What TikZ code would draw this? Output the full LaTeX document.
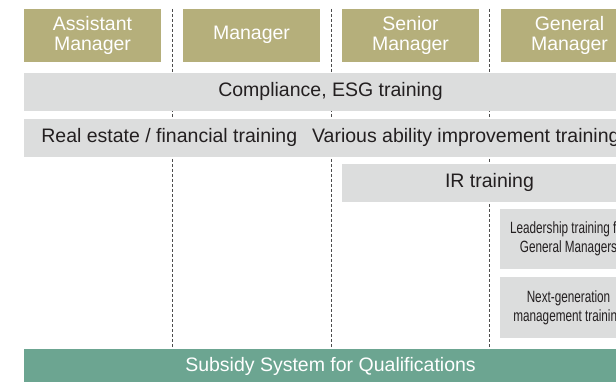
\documentclass[tikz,border=0pt]{standalone}
\usepackage{fontspec}
\setmainfont{Liberation Sans}
\newfontfamily\condfont[FakeStretch=0.72]{Liberation Sans}
\usetikzlibrary{positioning}
\definecolor{hdrolive}{HTML}{B5AF7B}
\definecolor{bargray}{HTML}{DCDDDD}
\definecolor{subgreen}{HTML}{6CA591}
\definecolor{txtdark}{HTML}{231F20}
\definecolor{sepgray}{HTML}{4D4D4D}

\begin{document}
\begin{tikzpicture}[x=1pt, y=-1pt, node distance=8pt and 22pt,
  every node/.style={inner sep=0pt, outer sep=0pt, align=center},
  hdr/.style={fill=hdrolive, text=white, minimum width=137pt, minimum height=52.7pt, font=\fontsize{19.5}{20}\selectfont},
  bar/.style={fill=bargray, text=txtdark, minimum height=38pt, font=\fontsize{19.5}{20}\selectfont},
  smallbox/.style={fill=bargray, text=txtdark, minimum width=137pt, minimum height=60pt, font=\condfont\fontsize{16.3}{19}\selectfont},
  sepline/.style={sepgray, line width=0.8pt, dash pattern=on 3pt off 2pt}]
\useasboundingbox (0,0) rectangle (616,382);
\clip (0,0) rectangle (616,382);

% column separators
\foreach \x in {172,331,489.5}
  \draw[sepline] (\x,9) -- (\x,349);

% grade headers
\node[hdr] (asst) at (92.5,35.3) {Assistant\\Manager};
\node[hdr, right=of asst] (mgr) {Manager};
\node[hdr, right=of mgr] (senior) {Senior\\Manager};
\node[hdr, right=of senior] (general) {General\\Manager};

% training bars
\node[bar, minimum width=613pt] (comp) at (330.5,91.7) {Compliance, ESG training};
\node[bar, minimum width=613pt, minimum height=37.7pt] (ability) at (330.5,137.8)
  {Real estate / financial training\hspace{15pt}Various ability improvement training};
\node[bar, minimum width=295pt, minimum height=37.7pt] (ir) at (489.5,182.8) {IR training};
\node[smallbox] (lead) at (568.5,239) {Leadership training for\\General Managers};
\node[smallbox, minimum height=60.7pt] (nextgen) at (568.5,307.3) {Next-generation\\management training};

% qualification support
\node[fill=subgreen, text=white, minimum width=613pt, minimum height=35pt,
  font=\fontsize{19.5}{20}\selectfont] (subsidy) at (330.5,366.5) {Subsidy System for Qualifications};
\end{tikzpicture}
\end{document}
